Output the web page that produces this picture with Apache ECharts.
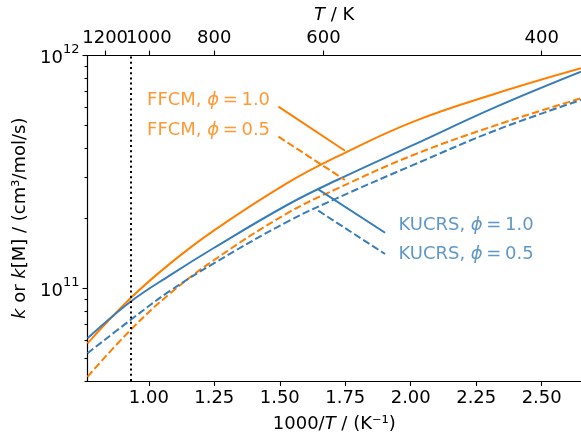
<!DOCTYPE html>
<html>
<head>
<meta charset="utf-8">
<script src="https://cdn.jsdelivr.net/npm/echarts@6/dist/echarts.min.js"></script>
<style>
  html, body { margin: 0; padding: 0; background: #fff; }
  #chart { width: 581px; height: 439px; }
</style>
</head>
<body>
<div id="chart"></div>
<script>
// 1000/T sample points (K^-1)
const invT = [0.766, 0.93, 1.082, 1.248, 1.528, 1.719, 2.01, 2.328, 2.65];
// rate constants, cm3/mol/s
const ffcm10 = [5.80e10, 9.06e10, 1.28e11, 1.77e11, 2.83e11, 3.68e11, 5.20e11, 6.88e11, 8.81e11];
const ffcm05 = [4.17e10, 6.62e10, 9.52e10, 1.32e11, 2.10e11, 2.68e11, 3.74e11, 5.03e11, 6.55e11];
const kucrs10 = [6.10e10, 8.76e10, 1.14e11, 1.49e11, 2.28e11, 2.92e11, 4.13e11, 6.03e11, 8.52e11];
const kucrs05 = [5.26e10, 7.31e10, 9.77e10, 1.28e11, 1.93e11, 2.44e11, 3.39e11, 4.79e11, 6.44e11];

const xTicks = [1.0, 1.25, 1.5, 1.75, 2.0, 2.25, 2.5];
const tempTicksA = [1200];
const tempTicksB = [1000, 800, 600, 400];
const yMajor = [1e11, 1e12];
const yMinor = [4e10, 5e10, 6e10, 7e10, 8e10, 9e10, 2e11, 3e11, 4e11, 5e11, 6e11, 7e11, 8e11, 9e11];
const dottedX = 0.929;

// annotation anchors (data coords): text point and leader line ends
const notes = [
  { mech: 'FFCM', phi: '1.0', text: [1.463, 6.39e11], from: [1.495, 6.03e11], to: [1.749, 3.90e11], side: 'left', dash: false },
  { mech: 'FFCM', phi: '0.5', text: [1.463, 4.79e11], from: [1.495, 4.48e11], to: [1.749, 2.92e11], side: 'left', dash: true },
  { mech: 'KUCRS', phi: '1.0', text: [1.953, 1.87e11], from: [1.647, 2.66e11], to: [1.902, 1.733e11], side: 'right', dash: false },
  { mech: 'KUCRS', phi: '0.5', text: [1.953, 1.404e11], from: [1.647, 2.155e11], to: [1.902, 1.404e11], side: 'right', dash: true }
];

const ORANGE = '#ff7f00';
const BLUE = '#377eb8';
const FONT = 'DejaVu Sans';
const xMin = 0.766, xMax = 2.65;

const chart = echarts.init(document.getElementById('chart'));

function curve(name, vals, color, dash) {
  return {
    name: name,
    type: 'line',
    data: invT.map((x, i) => [x, vals[i]]),
    showSymbol: false,
    smooth: 0.4,
    lineStyle: { color: color, width: 2, type: dash ? [7.5, 3.2] : 'solid' },
    z: 3
  };
}

const series = [
  curve('FFCM 1.0', ffcm10, ORANGE, false),
  curve('FFCM 0.5', ffcm05, ORANGE, true),
  curve('KUCRS 1.0', kucrs10, BLUE, false),
  curve('KUCRS 0.5', kucrs05, BLUE, true)
];

series[0].markLine = {
  silent: true,
  symbol: 'none',
  label: { show: false },
  lineStyle: { color: '#000', type: [2, 3.2], width: 2 },
  data: [{ xAxis: dottedX }]
};

notes.forEach(n => {
  const color = n.mech === 'FFCM' ? ORANGE : BLUE;
  series.push({
    type: 'line',
    data: [n.from, n.to],
    showSymbol: false,
    lineStyle: { color: color, width: 2, type: n.dash ? [7.5, 3.2] : 'solid' },
    z: 4
  });
  series.push({
    type: 'scatter',
    data: [n.text],
    symbolSize: 0,
    silent: true,
    label: {
      show: true,
      position: n.side,
      distance: 0,
      formatter: '{n|' + n.mech + ', }{i|ϕ}{n|\u2009=\u2009' + n.phi + '}',
      rich: {
        n: { fontSize: 18, fontFamily: FONT, color: color },
        i: { fontSize: 18, fontFamily: FONT, fontStyle: 'italic', color: color }
      }
    },
    z: 5
  });
});

const axisLineStyle = { color: '#000', width: 1.2 };
const tickStyle = { color: '#000', width: 1.1 };
const labelBase = { fontSize: 18, fontFamily: FONT, color: '#000' };
const italicRich = { i: { fontSize: 18, fontFamily: FONT, fontStyle: 'italic' } };

// top temperature axis, split in two so the touching 1200 / 1000 labels are both kept
function tempAxis(temps, withLine, withName) {
  const vals = temps.map(t => 1000 / t);
  return {
    type: 'value', position: 'top', min: xMin, max: xMax,
    axisLine: { show: withLine, onZero: false, lineStyle: axisLineStyle },
    axisTick: { show: true, customValues: vals, length: 5, lineStyle: tickStyle },
    axisLabel: Object.assign({ customValues: vals, formatter: v => String(Math.round(1000 / v)), margin: 8 }, labelBase),
    splitLine: { show: false },
    name: withName ? '{i|T} / K' : '',
    nameLocation: 'middle',
    nameGap: 31,
    nameTextStyle: Object.assign({ rich: italicRich }, labelBase)
  };
}

chart.setOption({
  animation: false,
  backgroundColor: '#fff',
  grid: { left: 87.5, right: 0, top: 55.5, bottom: 58, containLabel: false, outerBoundsMode: 'none' },
  xAxis: [
    {
      type: 'value', position: 'bottom', min: xMin, max: xMax,
      axisLine: { show: true, onZero: false, lineStyle: axisLineStyle },
      axisTick: { show: true, customValues: xTicks, length: 5, lineStyle: tickStyle },
      axisLabel: Object.assign({ customValues: xTicks, formatter: v => v.toFixed(2), margin: 8 }, labelBase),
      splitLine: { show: false },
      name: '1000/{i|T} / (K⁻¹)',
      nameLocation: 'middle',
      nameGap: 34,
      nameTextStyle: Object.assign({ rich: italicRich }, labelBase)
    },
    tempAxis(tempTicksB, true, true),
    tempAxis(tempTicksA, false, false)
  ],
  yAxis: [
    {
      type: 'log', logBase: 10, min: 4e10, max: 1e12,
      axisLine: { show: true, onZero: false, lineStyle: axisLineStyle },
      axisTick: { show: true, customValues: yMajor, length: 5, lineStyle: tickStyle },
      axisLabel: Object.assign({
        customValues: yMajor,
        formatter: v => '{b|10}{s|' + Math.round(Math.log10(v)) + '}',
        margin: 8,
        rich: {
          b: { fontSize: 18, fontFamily: FONT, color: '#000', lineHeight: 24, verticalAlign: 'bottom' },
          s: { fontSize: 13, fontFamily: FONT, color: '#000', lineHeight: 24, verticalAlign: 'top' }
        }
      }, labelBase),
      splitLine: { show: false },
      minorTick: { show: false },
      name: '{i|k} or {i|k}[M] / (cm³/mol/s)',
      nameLocation: 'middle',
      nameGap: 52,
      nameTextStyle: Object.assign({ rich: italicRich }, labelBase)
    },
    {
      type: 'log', logBase: 10, min: 4e10, max: 1e12, position: 'left', offset: 0,
      axisLine: { show: false },
      axisTick: { show: true, customValues: yMinor, length: 3, lineStyle: tickStyle },
      axisLabel: { show: false },
      splitLine: { show: false }
    }
  ],
  series: series
});
</script>
</body>
</html>
